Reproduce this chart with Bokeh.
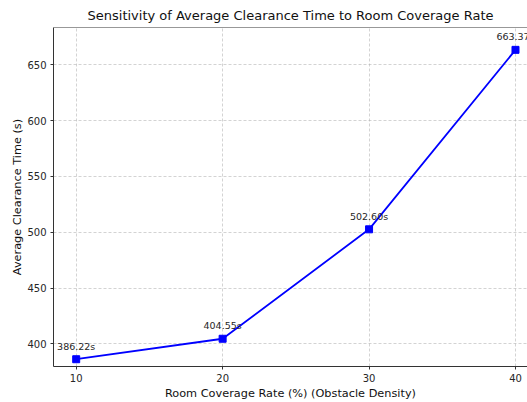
from bokeh.plotting import figure
from bokeh.models import ColumnDataSource, FixedTicker, Range1d, Span
from bokeh.embed import file_html
from bokeh.resources import INLINE
from bokeh.core.properties import value

# Coverage rate (%) vs. average clearance time (s)
coverage = [10, 20, 30, 40]
clearance = [386.22, 404.55, 502.60, 663.37]
labels = [f"{v:.2f}s" for v in clearance]

FONT = "DejaVu Sans"
TXT = "#262626"

src = ColumnDataSource(data=dict(x=coverage, y=clearance, label=labels))

y_lo, y_hi = 379.7, 683.4
p = figure(
    width=527, height=402,
    output_backend="svg", toolbar_location=None,
    x_range=Range1d(8.45, 40.82), y_range=Range1d(y_lo, y_hi),
    min_border_left=53, min_border_right=0, min_border_top=27, min_border_bottom=36,
    title="Sensitivity of Average Clearance Time to Room Coverage Rate",
)
p.outline_line_color = None
p.background_fill_color = "white"
p.border_fill_color = "white"

p.title.text_font = FONT
p.title.text_font_size = "13px"
p.title.text_font_style = "normal"
p.title.text_color = "#111111"
p.title.align = "center"

# top frame edge
p.add_layout(Span(location=y_hi, dimension="width", line_color="#333333", line_width=1))

for ax in (p.xaxis[0], p.yaxis[0]):
    ax.axis_line_color = "#333333"
    ax.axis_line_width = 1
    ax.major_tick_line_color = "#333333"
    ax.major_tick_out = 3
    ax.major_tick_in = 0
    ax.minor_tick_line_color = None
    ax.major_label_text_font = FONT
    ax.major_label_text_font_size = "10px"
    ax.major_label_text_color = TXT
    ax.axis_label_text_font = FONT
    ax.axis_label_text_font_size = "11.3px"
    ax.axis_label_text_font_style = "normal"
    ax.axis_label_text_color = "#111111"

p.xaxis.ticker = FixedTicker(ticks=coverage)
p.yaxis.ticker = FixedTicker(ticks=[400, 450, 500, 550, 600, 650])
p.xaxis.axis_label = "Room Coverage Rate (%) (Obstacle Density)"
p.yaxis.axis_label = "Average Clearance Time (s)"
p.xaxis.major_label_standoff = 4
p.yaxis.major_label_standoff = 4
p.xaxis.axis_label_standoff = 2
p.yaxis.axis_label_standoff = 0

for g in (p.xgrid, p.ygrid):
    g.grid_line_color = "#b0b0b0"
    g.grid_line_alpha = 0.7
    g.grid_line_dash = "3 2"
    g.grid_line_width = 0.8

p.line("x", "y", source=src, line_color="#0000ff", line_width=1.8)
p.scatter("x", "y", source=src, marker="square", size=7, fill_color="#0000ff", line_color="#0000ff")

p.text("x", "y", text="label", source=src, text_align="center", text_baseline="alphabetic",
       y_offset=-13, text_font=value(FONT), text_font_size="9.5px", text_color=TXT)

open("out.html", "w").write(file_html(p, INLINE))
